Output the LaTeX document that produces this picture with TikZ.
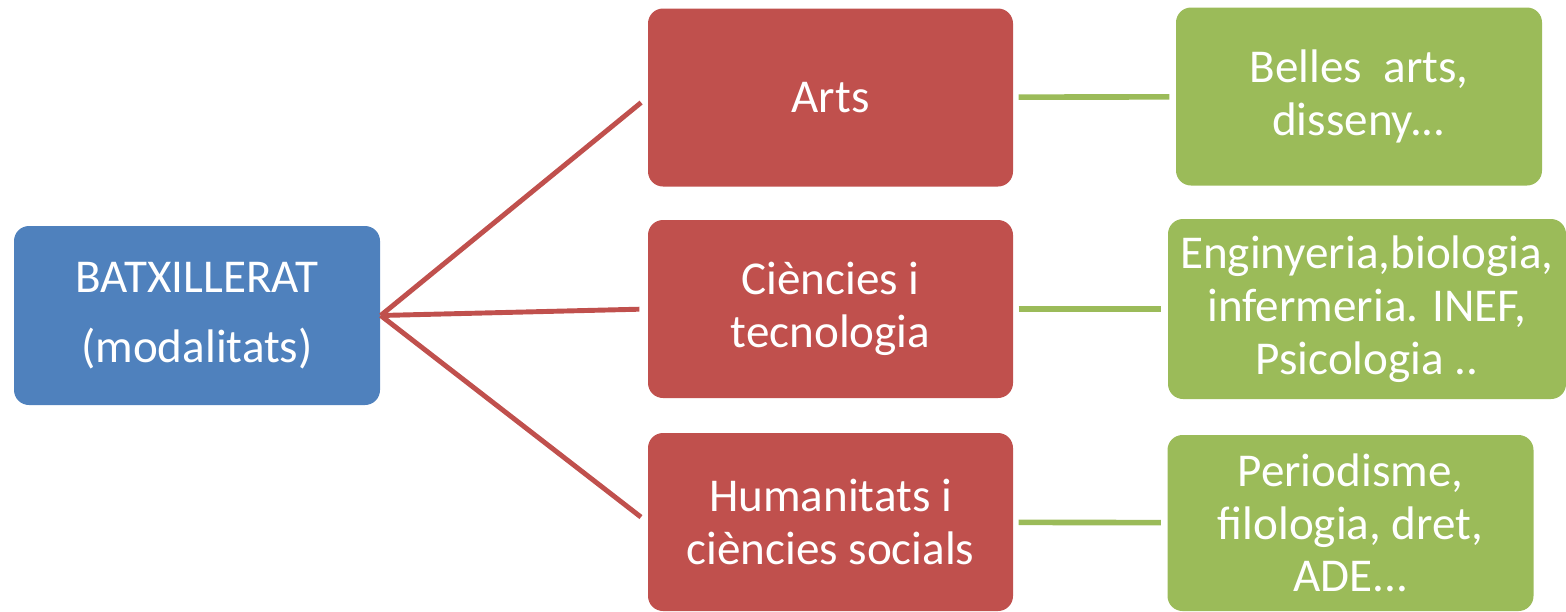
\documentclass[tikz,border=0pt]{standalone}
\usepackage{fontspec}
\setmainfont{Carlito}
\usepackage{tikz}
\usetikzlibrary{positioning}
\definecolor{blau}{HTML}{4F81BD}
\definecolor{vermell}{HTML}{C0504D}
\definecolor{verd}{HTML}{9BBB59}
\tikzset{
  caixa/.style={rounded corners=0.15cm,text=white,align=center,inner sep=0pt,
    font=\fontsize{13.4}{15}\selectfont},
  arrel/.style={caixa,fill=blau,minimum width=3.66cm,minimum height=1.79cm,
    font=\fontsize{13.4}{20}\selectfont},
  modalitat/.style={caixa,fill=vermell,minimum width=3.65cm,minimum height=1.78cm},
  estudis/.style={caixa,fill=verd,minimum height=1.78cm},
  branca/.style={vermell,line width=1.4pt,shorten >=0.08cm},
  enllac/.style={verd,line width=1.6pt,shorten <=0.05cm,shorten >=0.06cm}
}
\begin{document}
\begin{tikzpicture}[x=0.1mm,y=-0.1mm]
\useasboundingbox (0,0) rectangle (1566,611);
\node[arrel] (batx) at (197,315.5) {BATXILLERAT\\(modalitats)};
\node[modalitat] (arts) at (830.5,97.5) {Arts};
\node[modalitat] (cien) at (830.5,309) {Ciències i\\tecnologia};
\node[modalitat] (hum) at (830.5,522) {Humanitats i\\ciències socials};
\node[estudis,minimum width=3.66cm] (belles) at (1359,96.5) {Belles\ \ arts,\\disseny...};
\node[estudis,minimum width=3.98cm,minimum height=1.8cm] (engi) at (1367,309) {Enginyeria,biologia,\\infermeria. INEF,\\Psicologia ..};
\node[estudis,minimum width=3.66cm,minimum height=1.76cm] (perio) at (1350.5,523) {Periodisme,\\filologia, dret,\\ADE...};
\foreach \m in {arts,cien,hum}{\draw[branca] (batx.east) -- (\m.west);}
\draw[enllac] (arts) -- (belles);
\draw[enllac] (cien) -- (engi);
\draw[enllac] (hum) -- (perio);
\end{tikzpicture}
\end{document}
